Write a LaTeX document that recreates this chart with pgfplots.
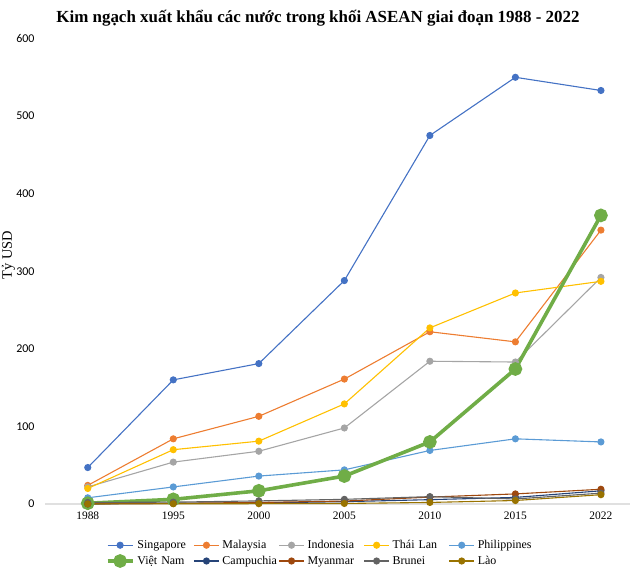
\documentclass[border=0pt]{standalone}
\usepackage{pgfplots}
\pgfplotsset{compat=1.18}
\usepackage{fontspec}
\setmainfont{Liberation Serif}
\newfontfamily\calibri{Carlito}
\usetikzlibrary{calc}

\definecolor{cSing}{HTML}{4472C4}
\definecolor{cMal}{HTML}{ED7D31}
\definecolor{cIndo}{HTML}{A5A5A5}
\definecolor{cThai}{HTML}{FFC000}
\definecolor{cPhil}{HTML}{5B9BD5}
\definecolor{cVN}{HTML}{70AD47}
\definecolor{cCam}{HTML}{264478}
\definecolor{cMya}{HTML}{9E480E}
\definecolor{cBru}{HTML}{636363}
\definecolor{cLao}{HTML}{997300}

\pgfplotsset{
  ser/.style={color=#1, line width=1.1bp, mark=*, mark size=3bp, mark options={fill=#1, draw=#1}},
}

\begin{document}
\begin{tikzpicture}
\begin{axis}[
    name=ax,
    scale only axis,
    width=585bp, height=465.5bp,
    xmin=-0.5, xmax=6.34,
    ymin=0, ymax=600,
    xtick={0,...,6},
    xticklabels={1988,1995,2000,2005,2010,2015,2022},
    ytick={0,100,...,600},
    major tick length=0pt,
    axis line style={draw=none},
    /pgf/number format/assume math mode=true,
    yticklabel style={font=\calibri\fontsize{12}{14}\selectfont, xshift=-7bp},
    xticklabel style={font=\fontsize{11.5}{13}\selectfont, yshift=-4bp},
    ylabel={Tỷ USD},
    ylabel style={font=\fontsize{14.5}{16}\selectfont, at={(rel axis cs:-0.0625,0.535)}, anchor=center},
    clip=false,
    legend columns=5,
    legend cell align=left,
    legend style={draw=none, fill=none, font=\fontsize{12}{14}\selectfont,
      at={(0.468,-0.069)}, anchor=north,
      /tikz/every odd column/.append style={column sep=1bp},
      /tikz/every even column/.append style={column sep=2bp, text width=52bp, align=left},
      row sep=2bp},
    legend image code/.code={
      \draw[#1, mark repeat=2, mark phase=2] plot coordinates {(0bp,0bp) (12.5bp,0bp) (25bp,0bp)};
    },
  ]
  \draw[black!12, line width=1.2bp] (rel axis cs:0,0) -- (rel axis cs:1,0);

  \addplot[ser=cSing] coordinates {(0,47) (1,160) (2,181) (3,288) (4,475) (5,550) (6,533)};
  \addlegendentry{Singapore}
  \addplot[ser=cMal] coordinates {(0,24) (1,84) (2,113) (3,161) (4,222) (5,209) (6,353)};
  \addlegendentry{Malaysia}
  \addplot[ser=cIndo] coordinates {(0,22) (1,54) (2,68) (3,98) (4,184) (5,183) (6,292)};
  \addlegendentry{Indonesia}
  \addplot[ser=cThai] coordinates {(0,20) (1,70) (2,81) (3,129) (4,227) (5,272) (6,287)};
  \addlegendentry{Thái Lan}
  \addplot[ser=cPhil] coordinates {(0,8) (1,22) (2,36) (3,44) (4,69) (5,84) (6,80)};
  \addlegendentry{Philippines}
  \addplot[color=cVN, line width=3.6bp, mark=*, mark size=5bp, mark options={fill=cVN, draw=cVN}]
    coordinates {(0,1) (1,6) (2,17) (3,36) (4,80) (5,174) (6,372)};
  \addlegendentry{Việt Nam}
  \addplot[ser=cCam] coordinates {(0,0.1) (1,0.9) (2,1.4) (3,3) (4,5.6) (5,8.5) (6,17)};
  \addlegendentry{Campuchia}
  \addplot[ser=cMya] coordinates {(0,0.2) (1,0.9) (2,2) (3,3.8) (4,8.9) (5,13) (6,19)};
  \addlegendentry{Myanmar}
  \addplot[ser=cBru] coordinates {(0,2) (1,2.4) (2,4) (3,6) (4,9.5) (5,6.5) (6,14)};
  \addlegendentry{Brunei}
  \addplot[ser=cLao] coordinates {(0,0.1) (1,0.3) (2,0.4) (3,0.7) (4,2) (5,4.5) (6,12)};
  \addlegendentry{Lào}
\end{axis}
\node[font=\bfseries\fontsize{17}{20}\selectfont] at ($(ax.south west)+(273bp,486bp)$)
  {Kim ngạch xuất khẩu các nước trong khối ASEAN giai đoạn 1988 - 2022};
\pgfresetboundingbox
\path[use as bounding box] ($(ax.south west)+(-45bp,-68bp)$) rectangle ($(ax.south west)+(595bp,504bp)$);
\end{tikzpicture}
\end{document}
